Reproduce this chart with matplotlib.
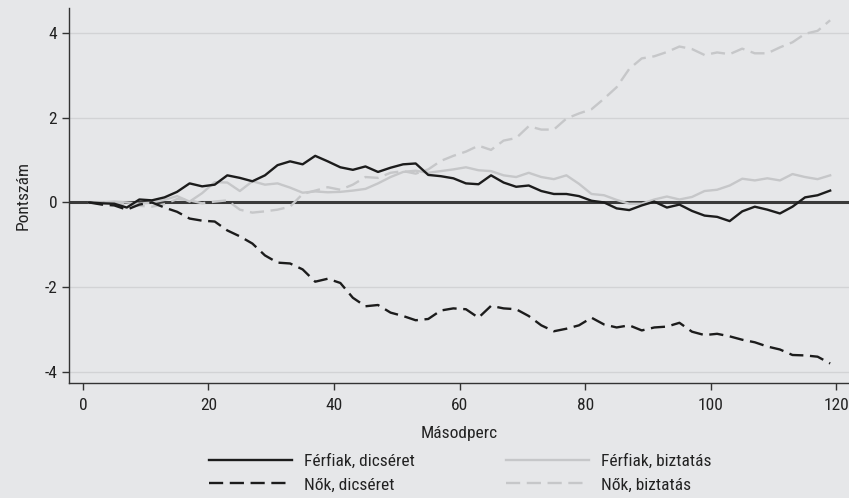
import matplotlib.pyplot as plt
import numpy as np

plt.rcParams['font.family'] = ['Roboto Condensed', 'DejaVu Sans']

seconds = list(range(1, 120, 2))

ferfi_dicseret = [0, -0.02, -0.03, -0.12, 0.07, 0.05, 0.12, 0.25, 0.45, 0.38,
                  0.42, 0.64, 0.58, 0.5, 0.64, 0.88, 0.97, 0.9, 1.1, 0.97,
                  0.83, 0.77, 0.85, 0.72, 0.82, 0.9, 0.92, 0.65, 0.62, 0.57,
                  0.45, 0.43, 0.64, 0.47, 0.37, 0.4, 0.27, 0.2, 0.2, 0.15,
                  0.04, 0.0, -0.14, -0.18, -0.07, 0.02, -0.12, -0.05, -0.2, -0.31,
                  -0.34, -0.44, -0.21, -0.1, -0.17, -0.26, -0.1, 0.12, 0.17, 0.28]

no_dicseret = [0, -0.05, -0.07, -0.17, -0.05, 0.0, -0.12, -0.22, -0.38, -0.43,
               -0.45, -0.66, -0.8, -0.97, -1.25, -1.42, -1.44, -1.58, -1.87, -1.8,
               -1.9, -2.25, -2.45, -2.42, -2.6, -2.68, -2.78, -2.75, -2.55, -2.5,
               -2.52, -2.72, -2.44, -2.5, -2.52, -2.68, -2.9, -3.04, -2.98, -2.9,
               -2.72, -2.88, -2.95, -2.9, -3.02, -2.95, -2.93, -2.84, -3.05, -3.13,
               -3.1, -3.16, -3.24, -3.3, -3.4, -3.47, -3.6, -3.61, -3.64, -3.8]

ferfi_biztatas = [0, 0.0, 0.02, 0.0, -0.03, 0.0, 0.06, 0.15, 0.02, 0.22,
                  0.48, 0.47, 0.27, 0.5, 0.42, 0.45, 0.35, 0.23, 0.26, 0.24,
                  0.25, 0.28, 0.32, 0.45, 0.6, 0.72, 0.75, 0.7, 0.74, 0.78,
                  0.83, 0.76, 0.74, 0.64, 0.6, 0.7, 0.6, 0.55, 0.64, 0.44,
                  0.2, 0.17, 0.06, -0.03, -0.03, 0.07, 0.14, 0.07, 0.13, 0.27,
                  0.3, 0.4, 0.56, 0.52, 0.57, 0.52, 0.67, 0.6, 0.55, 0.64]

no_biztatas = [0, 0.0, -0.02, -0.05, -0.08, -0.1, -0.04, 0.08, 0.05, -0.02,
               0.02, 0.05, -0.17, -0.24, -0.21, -0.17, -0.1, 0.2, 0.28, 0.36,
               0.3, 0.42, 0.6, 0.58, 0.7, 0.74, 0.68, 0.78, 0.98, 1.1,
               1.2, 1.34, 1.24, 1.46, 1.52, 1.8, 1.72, 1.72, 1.98, 2.1,
               2.2, 2.45, 2.72, 3.15, 3.4, 3.45, 3.55, 3.68, 3.62, 3.48,
               3.54, 3.5, 3.63, 3.52, 3.52, 3.66, 3.78, 3.98, 4.05, 4.3]

bg = '#e6e7e9'
black = '#1c1c1c'
grey = '#c6c7c9'
fs = 12.5

fig = plt.figure(figsize=(8.49, 4.98), dpi=100, facecolor=bg)
ax = fig.add_axes([0.0813, 0.231, 0.9187, 0.753], facecolor=bg)

for y in [-4, -2, 2, 4]:
    ax.axhline(y, color='#d2d3d5', lw=1.0, zorder=1)
ax.axhline(0, color='#3a3a3a', lw=2.2, zorder=2)

dash = (6, 2.8)
l1, = ax.plot(seconds, ferfi_dicseret, color=black, lw=1.7, label='Férfiak, dicséret', zorder=4)
l2, = ax.plot(seconds, ferfi_biztatas, color=grey, lw=1.7, label='Férfiak, biztatás', zorder=3)
l3, = ax.plot(seconds, no_dicseret, color=black, lw=1.7, dashes=dash, label='Nők, dicséret', zorder=4)
l4, = ax.plot(seconds, no_biztatas, color=grey, lw=1.7, dashes=dash, label='Nők, biztatás', zorder=3)

ax.set_xlim(-2.2, 122)
ax.set_ylim(-4.26, 4.59)
ax.set_xticks([0, 20, 40, 60, 80, 100, 120])
ax.set_yticks([-4, -2, 0, 2, 4])
ax.set_yticklabels(['-4', '-2', '0', '2', '4'])

for s in ['top', 'right']:
    ax.spines[s].set_visible(False)
for s in ['left', 'bottom']:
    ax.spines[s].set_color('#333333')
    ax.spines[s].set_linewidth(1.0)
ax.tick_params(colors='#333333', labelcolor='#222222', labelsize=fs, length=5, width=1.0)
ax.tick_params(axis='x', pad=6)

ax.set_xlabel('Másodperc', fontsize=fs, color='#222222', labelpad=9)
ax.set_ylabel('Pontszám', fontsize=fs, color='#222222', labelpad=10)

leg_kw = dict(loc='center left', frameon=False, fontsize=fs, handlelength=4.8,
              handletextpad=0.7, labelspacing=0.5, borderpad=0, borderaxespad=0,
              labelcolor='#222222')
leg1 = fig.legend([l1, l3], ['Férfiak, dicséret', 'Nők, dicséret'],
                  bbox_to_anchor=(209 / 849, 1 - 473 / 498), **leg_kw)
leg2 = fig.legend([l2, l4], ['Férfiak, biztatás', 'Nők, biztatás'],
                  bbox_to_anchor=(506 / 849, 1 - 473 / 498), **leg_kw)

fig.savefig('out.png', dpi=100, facecolor=bg)
